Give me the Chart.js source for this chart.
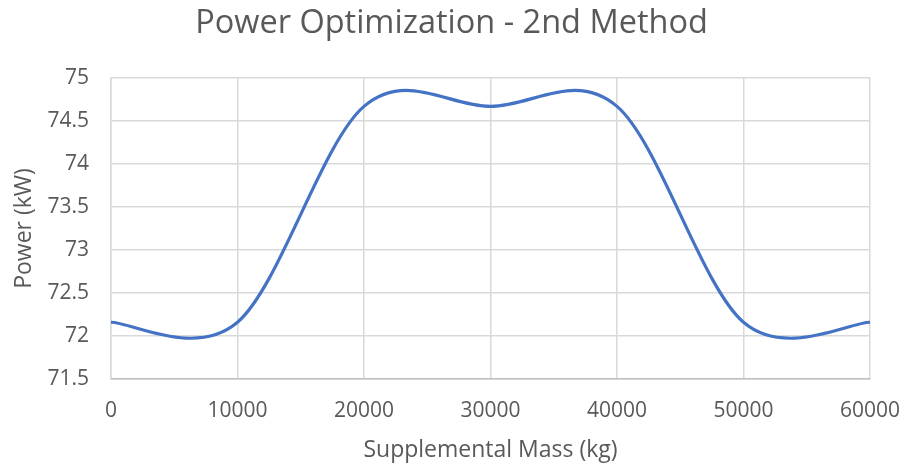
<!DOCTYPE html>
<html><head><meta charset="utf-8">
<script src="https://cdn.jsdelivr.net/npm/chart.js@4"></script>
<style>html,body{margin:0;padding:0;background:#fff}#w{width:903px;height:465px}</style>
</head><body><div id="w"><canvas id="c"></canvas></div>
<script>
const massKg = [0, 10000, 20000, 30000, 40000, 50000, 60000];
const powerKW = [72.16, 72.16, 74.67, 74.67, 74.67, 72.16, 72.16];
const xTicks = [0, 10000, 20000, 30000, 40000, 50000, 60000];
const yTicks = [71.5, 72, 72.5, 73, 73.5, 74, 74.5, 75];

const FONT = "'Open Sans', 'Liberation Sans', sans-serif";
const TXT = '#595959';
const GRID = '#d9d9d9';

// Excel-style smoothing: uniform Catmull-Rom control points from the library's own point positions
const excelSmooth = {
  id: 'excelSmooth',
  beforeDatasetsDraw(chart) {
    chart.data.datasets.forEach((ds, di) => {
      const meta = chart.getDatasetMeta(di);
      const line = meta.dataset;
      if (!line) return;
      line.updateControlPoints(chart.chartArea, 'x');
      const pts = meta.data;
      const n = pts.length;
      for (let i = 0; i < n; i++) {
        const p = pts[i];
        const prev = pts[Math.max(0, i - 1)];
        const next = pts[Math.min(n - 1, i + 1)];
        const dx = (next.x - prev.x) / 6;
        const dy = (next.y - prev.y) / 6;
        p.cp1x = p.x - dx; p.cp1y = p.y - dy;
        p.cp2x = p.x + dx; p.cp2y = p.y + dy;
      }
    });
  }
};

new Chart(document.getElementById('c'), {
  type: 'scatter',
  plugins: [excelSmooth],
  data: {
    datasets: [{
      data: massKg.map((x, i) => ({x, y: powerKW[i]})),
      showLine: true,
      borderColor: '#4472C4',
      borderWidth: 3.2,
      pointRadius: 0,
      tension: 0.5,
      fill: false
    }]
  },
  options: {
    responsive: true,
    maintainAspectRatio: false,
    animation: false,
    layout: {padding: {left: 0, right: 0, top: 0, bottom: 0}},
    plugins: {
      legend: {display: false},
      tooltip: {enabled: false},
      title: {
        display: true,
        text: 'Power Optimization - 2nd Method',
        color: TXT,
        font: {family: FONT, size: 32.5, weight: 'normal'},
        padding: {top: 4, bottom: 35}
      }
    },
    scales: {
      x: {
        type: 'linear',
        min: 0, max: 60000,
        afterBuildTicks: a => { a.ticks = xTicks.map(v => ({value: v})); },
        afterFit: s => { s.height = 86; s.paddingRight = 33; },
        ticks: {color: TXT, font: {family: FONT, size: 21}, padding: 19, maxRotation: 0,
                callback: v => String(v)},
        grid: {color: GRID, lineWidth: 1.5, drawTicks: false},
        border: {color: '#bfbfbf', width: 1.5},
        title: {display: true, text: 'Supplemental Mass (kg)', color: TXT,
                font: {family: FONT, size: 23}, padding: {top: 0, bottom: 1}}
      },
      y: {
        type: 'linear',
        min: 71.5, max: 75,
        afterBuildTicks: a => { a.ticks = yTicks.map(v => ({value: v})); },
        afterFit: s => { s.width = 111; },
        ticks: {color: TXT, font: {family: FONT, size: 21}, padding: 22,
                callback: v => String(v)},
        grid: {color: GRID, lineWidth: 1.5, drawTicks: false},
        border: {color: GRID, width: 1.5},
        title: {display: true, text: 'Power (kW)', color: TXT,
                font: {family: FONT, size: 23}, padding: {top: 11, bottom: 0}}
      }
    }
  }
});
</script>
</body></html>
